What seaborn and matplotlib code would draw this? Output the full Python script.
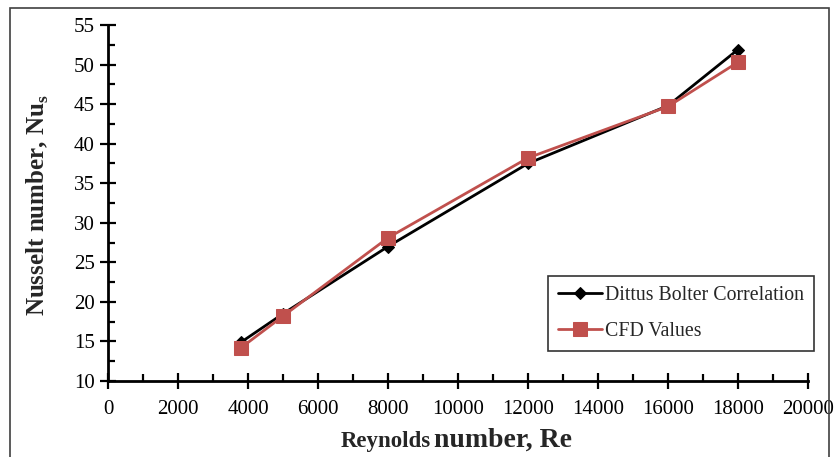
import numpy as np
import pandas as pd
import matplotlib
matplotlib.use("Agg")
import matplotlib.pyplot as plt
from matplotlib.patches import Rectangle
from matplotlib.ticker import MultipleLocator
import seaborn as sns

reynolds = [3800, 5000, 8000, 12000, 16000, 18000]
dittus_bolter = [14.9, 18.5, 27.0, 37.5, 44.8, 51.9]
cfd_values = [14.2, 18.2, 28.1, 38.2, 44.7, 50.3]
series_names = ["Dittus Bolter Correlation", "CFD Values"]
x_ticks = list(range(0, 20001, 2000))
y_ticks = list(range(10, 56, 5))

sns.set_style("white")
plt.rcParams["font.family"] = ["Liberation Serif", "DejaVu Serif"]
plt.rcParams["mathtext.fontset"] = "custom"
plt.rcParams["mathtext.rm"] = "Liberation Serif"
plt.rcParams["mathtext.bf"] = "Liberation Serif:bold"

W, H = 840, 457
fig = plt.figure(figsize=(W / 100, H / 100), dpi=100)
fig.patch.set_facecolor("white")

# outer chart border
fig.add_artist(Rectangle((10 / W, -0.02), 819 / W, (H - 8) / H + 0.02,
                         transform=fig.transFigure, fill=False,
                         edgecolor="#404040", linewidth=1.2, clip_on=False))

ax = fig.add_axes([108 / W, (H - 381) / H, 700 / W, 356 / H])

df = pd.DataFrame({"Re": reynolds, "DB": dittus_bolter, "CFD": cfd_values})
sns.lineplot(data=df, x="Re", y="DB", ax=ax, color="black", linewidth=2,
             marker="D", markersize=6.5, markeredgecolor="black",
             label=series_names[0])
sns.lineplot(data=df, x="Re", y="CFD", ax=ax, color="#C0504D", linewidth=2,
             marker="s", markersize=10, markeredgecolor="#C0504D",
             label=series_names[1])

ax.set_xlim(0, 20000)
ax.set_ylim(10, 55)
ax.set_xticks(x_ticks)
ax.set_yticks(y_ticks)
ax.xaxis.set_minor_locator(MultipleLocator(1000))
ax.yaxis.set_minor_locator(MultipleLocator(2.5))
ax.tick_params(axis="both", which="major", direction="inout", length=11,
               width=1.6, color="black", labelsize=15, labelcolor="black")
ax.tick_params(axis="x", which="major", pad=8)
ax.tick_params(axis="y", which="major", pad=4)
ax.tick_params(axis="both", which="minor", direction="in", length=5,
               width=1.6, color="black")
ax.tick_params(axis="x", which="both", bottom=True, top=False)
ax.tick_params(axis="y", which="both", left=True, right=False)

for s in ["top", "right"]:
    ax.spines[s].set_visible(False)
for s in ["left", "bottom"]:
    ax.spines[s].set_linewidth(2)
    ax.spines[s].set_color("black")
ax.spines["left"].set_bounds(10, 55)

ax.set_xlabel("")
ax.set_ylabel("")
fig.text(431 / W, 1 - 441 / H, "Reynolds", fontsize=16.5, fontweight="bold",
         ha="right", va="center")
fig.text(434 / W, 1 - 440 / H, "number, Re", fontsize=20, fontweight="bold",
         ha="left", va="center")
fig.text(38 / W, 1 - 205 / H, r"Nusselt number, Nu$_\mathbf{s}$", fontsize=18,
         fontweight="bold", rotation=90, ha="center", va="center")

leg = ax.legend(loc="upper left", bbox_to_anchor=(548 / W, 1 - 276 / H),
                bbox_transform=fig.transFigure, frameon=True, fancybox=False,
                edgecolor="black", fontsize=14.3, handlelength=2.2,
                handletextpad=0.15, borderpad=0.5, labelspacing=0.85,
                borderaxespad=0)
leg.get_frame().set_linewidth(1.2)

fig.savefig("out.png", dpi=100)
